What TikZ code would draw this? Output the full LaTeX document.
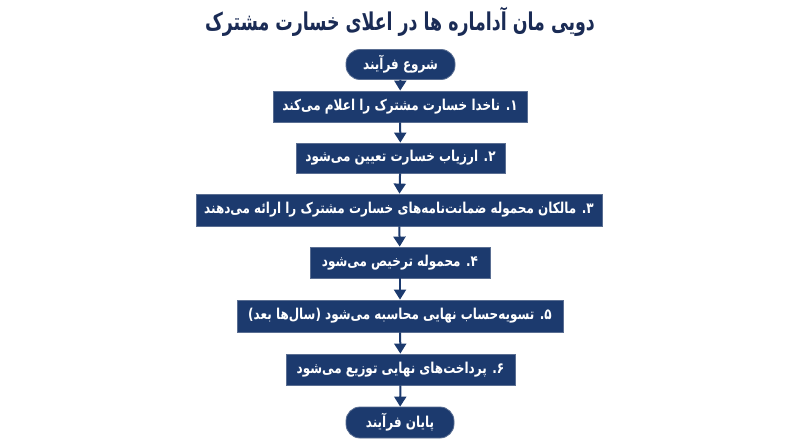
\documentclass[tikz,border=0pt]{standalone}
\usepackage{fontspec}
\usetikzlibrary{arrows.meta}
\TeXXeTstate=1
\newfontfamily\af[Script=Arabic,FakeStretch=0.8]{DejaVu Sans}
\newfontfamily\tf[Script=Arabic,FakeStretch=0.71]{DejaVu Sans}
\definecolor{navy}{HTML}{1C3A6E}
\definecolor{navyedge}{HTML}{5A6E92}
\definecolor{titlec}{HTML}{1A2B55}
\tikzset{
  stepbox/.style={draw=navyedge, line width=0.8pt, fill=navy, text=white, inner sep=0pt,
    font=\af\bfseries\fontsize{15}{17}\selectfont, minimum height=31pt},
  termbox/.style={stepbox, rounded corners=14pt},
  flowarrow/.style={draw=navy, line width=2pt, -{Triangle[width=12pt,length=10pt]}}
}
\begin{document}
\begin{tikzpicture}[x=1pt,y=1pt]
\useasboundingbox[fill=white] (0,0) rectangle (800,-447);
\node[text=titlec, font=\tf\bfseries\fontsize{24.5}{28}\selectfont] (title) at (400,-22) {\beginR دویی مان آداماره ها در اعلای خسارت مشترک\endR};
\node[termbox, minimum width=109pt, minimum height=30pt] (start) at (400.5,-64.5) {\beginR شروع فرآیند\endR};
\node[stepbox, minimum width=254pt] (s1) at (400,-106.5) {\beginR ۱\kern0pt. ناخدا خسارت مشترک را اعلام می‌کند\endR};
\node[stepbox, minimum width=209pt, minimum height=30pt] (s2) at (400.5,-158) {\beginR ۲\kern0pt. ارزیاب خسارت تعیین می‌شود\endR};
\node[stepbox, minimum width=406pt, minimum height=32pt] (s3) at (399,-210) {\beginR ۳\kern0pt. مالکان محموله ضمانت‌نامه‌های خسارت مشترک را ارائه می‌دهند\endR};
\node[stepbox, minimum width=180pt] (s4) at (400,-262.5) {\beginR ۴\kern0pt. محموله ترخیص می‌شود\endR};
\node[stepbox, minimum width=326pt, minimum height=32pt] (s5) at (400,-316) {\beginR ۵\kern0pt. تسویه‌حساب نهایی محاسبه می‌شود (سال‌ها بعد)\endR};
\node[stepbox, minimum width=229pt] (s6) at (400.5,-369.5) {\beginR ۶\kern0pt. پرداخت‌های نهایی توزیع می‌شود\endR};
\node[termbox, minimum width=108pt] (end) at (400,-422.5) {\beginR پایان فرآیند\endR};
\draw[flowarrow] (start) -- (s1);
\draw[flowarrow] (s1) -- (s2);
\draw[flowarrow] (s2) -- (s3);
\draw[flowarrow] (s3) -- (s4);
\draw[flowarrow] (s4) -- (s5);
\draw[flowarrow] (s5) -- (s6);
\draw[flowarrow] (s6) -- (end);
\end{tikzpicture}
\end{document}
